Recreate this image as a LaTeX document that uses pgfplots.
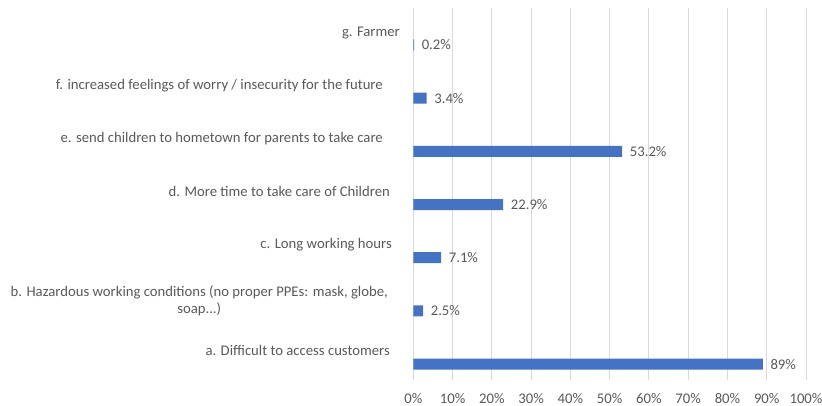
\documentclass[border=0pt]{standalone}
\usepackage{fontspec}
\setmainfont{Carlito}
\usepackage{pgfplots}
\pgfplotsset{compat=1.18}
\definecolor{barblue}{HTML}{4472C4}
\definecolor{txtgray}{HTML}{595959}
\definecolor{gridgray}{HTML}{D9D9D9}
\begin{document}
\begin{tikzpicture}[font=\fontsize{14.7}{17.6}\selectfont]
\useasboundingbox (0pt,0pt) rectangle (822pt,406pt);
\begin{axis}[
  at={(413.3pt,26pt)}, anchor=south west,
  scale only axis, width=392.7pt, height=371.7pt,
  xbar, bar width=11pt,
  xmin=0, xmax=100, ymin=-0.3, ymax=6.69,
  xtick={0,10,...,100},
  xticklabels={0\%,10\%,20\%,30\%,40\%,50\%,60\%,70\%,80\%,90\%,100\%},
  xticklabel style={anchor=center, yshift=-19pt, text=txtgray},
  ytick=\empty,
  xmajorgrids, grid style={gridgray, line width=0.9pt},
  major tick length=0pt,
  axis line style={draw=none},
  clip=false,
  /pgf/number format/assume math mode=true,
  point meta=x,
  nodes near coords={\pgfmathprintnumber[fixed,precision=1]{\pgfplotspointmeta}\%},
  every node near coord/.append style={anchor=west, inner sep=0pt, xshift=7.5pt, text=txtgray},
]
\addplot[draw=none, fill=barblue] coordinates {
  (89,0) (2.5,1) (7.1,2) (22.9,3) (53.2,4) (3.4,5) (0.2,6)
};
\node[anchor=east, inner sep=0pt, text=txtgray] at (axis cs:-3.39,6.23) {g. Farmer};
\node[anchor=east, inner sep=0pt, text=txtgray] at (axis cs:-7.72,5.24) {f. increased feelings of worry / insecurity for the future};
\node[anchor=east, inner sep=0pt, text=txtgray] at (axis cs:-7.72,4.24) {e. send children to hometown for parents to take care};
\node[anchor=east, inner sep=0pt, text=txtgray] at (axis cs:-5.93,3.24) {d. More time to take care of Children};
\node[anchor=east, inner sep=0pt, text=txtgray] at (axis cs:-5.42,2.25) {c. Long working hours};
\node[anchor=east, inner sep=0pt, text=txtgray, align=center] at (axis cs:-6.44,1.19) {b. Hazardous working conditions (no proper PPEs: mask, globe,\\ soap...)};
\node[anchor=east, inner sep=0pt, text=txtgray] at (axis cs:-5.93,0.25) {a. Difficult to access customers};
\end{axis}
\end{tikzpicture}
\end{document}
